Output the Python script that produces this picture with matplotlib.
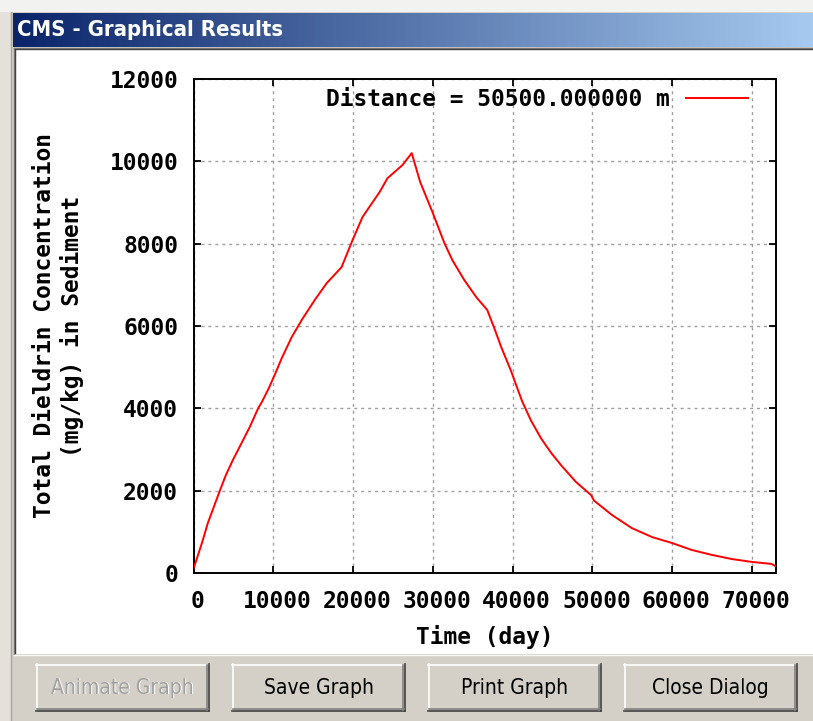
import numpy as np
import matplotlib
matplotlib.use("Agg")
import matplotlib.pyplot as plt
import matplotlib.transforms as mtransforms
from matplotlib.patches import Rectangle

# ---------------- data ----------------
time_day = [0, 1060, 1800, 3300, 4060, 4940, 7060, 8100, 8560, 9440, 10440, 11060,
            12310, 13560, 15190, 16690, 18560, 19940, 21190, 23310, 24310, 26190,
            27350, 28400, 29940, 31440, 32440, 33940, 35440, 36810, 37690, 38560,
            39810, 40560, 41190, 42300, 43560, 44810, 46060, 47940, 49810, 50190,
            52440, 54940, 57440, 59940, 62440, 64940, 67440, 69940, 72440, 73000]
conc = [100, 730, 1215, 2000, 2380, 2745, 3550, 4000, 4150, 4490, 4930, 5220,
        5730, 6145, 6630, 7040, 7430, 8090, 8650, 9250, 9590, 9910,
        10200, 9500, 8770, 8015, 7600, 7115, 6700, 6390, 5950, 5490,
        4900, 4500, 4170, 3700, 3270, 2920, 2620, 2210, 1895, 1760,
        1410, 1090, 875, 730, 560, 440, 340, 270, 220, 160]
x_ticks = [0, 10000, 20000, 30000, 40000, 50000, 60000, 70000]
y_ticks = [0, 2000, 4000, 6000, 8000, 10000, 12000]
series_label = "Distance = 50500.000000 m"
x_label = "Time (day)"
y_label = "Total Dieldrin Concentration\n(mg/kg) in Sediment"
window_title = "CMS - Graphical Results"
buttons = ["Animate Graph", "Save Graph", "Print Graph", "Close Dialog"]
button_enabled = [False, True, True, True]

plt.rcParams['lines.scale_dashes'] = False

W, H = 813, 721
fig = plt.figure(figsize=(W / 100, H / 100), dpi=100)

# ---------------- window chrome (pixel coordinates) ----------------
bg = fig.add_axes([0, 0, 1, 1], zorder=0)
bg.set_xlim(0, W)
bg.set_ylim(H, 0)
bg.axis('off')

face = '#D4D0C8'
bg.add_patch(Rectangle((0, 0), W, H, facecolor=face, edgecolor='none'))
bg.add_patch(Rectangle((0, 0), W, 12, facecolor='#F2F2F0', edgecolor='none'))
bg.add_patch(Rectangle((0, 12), 12, H, facecolor='#E4E1DA', edgecolor='none'))
bg.plot([11, 11], [12, H], color='#A8A59E', lw=1)

# title bar gradient
grad = np.linspace(0, 1, 256).reshape(1, -1)
c0 = np.array([10, 36, 106]) / 255
c1 = np.array([166, 202, 240]) / 255
img = c0[None, None, :] * (1 - grad[..., None]) + c1[None, None, :] * grad[..., None]
bg.imshow(img, extent=[13, W, 47, 13], aspect='auto', zorder=1)
bg.text(17, 30.5, window_title, color='white', fontsize=15.8, fontweight='bold',
        family='DejaVu Sans', fontstretch='condensed', ha='left', va='center', zorder=2)

# white client panel (sunken)
bg.add_patch(Rectangle((14, 48), W - 14, 606, facecolor='white', edgecolor='none', zorder=1))
bg.plot([13.5, 13.5], [47.5, 654], color='#808080', lw=1, zorder=2)
bg.plot([15, 15], [49, 653], color='#404040', lw=1, zorder=2)
bg.plot([13.5, W], [47.5, 47.5], color='#808080', lw=1, zorder=2)
bg.plot([15, W], [49, 49], color='#404040', lw=1, zorder=2)
bg.plot([14, W], [654.5, 654.5], color='#F8F8F8', lw=1, zorder=2)

# buttons
bx0, bw, bgap, by0, bh = 36, 173, 23, 664, 47
bfont = dict(fontsize=15, family='DejaVu Sans', fontstretch='condensed',
             ha='center', va='center')
for i, (lab, en) in enumerate(zip(buttons, button_enabled)):
    x = bx0 + i * (bw + bgap)
    bg.add_patch(Rectangle((x, by0), bw, bh, facecolor=face, edgecolor='none', zorder=2))
    bg.plot([x, x + bw], [by0 + 0.5, by0 + 0.5], color='white', lw=1.2, zorder=3)
    bg.plot([x + 0.5, x + 0.5], [by0, by0 + bh], color='white', lw=1.2, zorder=3)
    bg.plot([x, x + bw], [by0 + bh - 0.5, by0 + bh - 0.5], color='#404040', lw=1.2, zorder=3)
    bg.plot([x + bw - 0.5, x + bw - 0.5], [by0, by0 + bh], color='#404040', lw=1.2, zorder=3)
    bg.plot([x + 1, x + bw - 1], [by0 + bh - 2, by0 + bh - 2], color='#808080', lw=1.2, zorder=3)
    bg.plot([x + bw - 2, x + bw - 2], [by0 + 1, by0 + bh - 1], color='#808080', lw=1.2, zorder=3)
    cx, cy = x + bw / 2, by0 + bh / 2
    if en:
        bg.text(cx, cy, lab, color='black', zorder=4, **bfont)
    else:
        bg.text(cx + 1, cy + 1, lab, color='white', zorder=4, **bfont)
        bg.text(cx, cy, lab, color='#A0A0A0', zorder=5, **bfont)

# ---------------- plot ----------------
mono = dict(family='DejaVu Sans Mono', fontweight='bold', fontsize=16.5)
L, R, T, B = 193.5, 776, 79, 573
ax = fig.add_axes([L / W, (H - B) / H, (R - L) / W, (B - T) / H], zorder=5)
ax.set_facecolor('white')
ax.plot(time_day, conc, color='#FF0000', lw=1.4, label=series_label, zorder=3)
ax.set_xlim(0, 73000)
ax.set_ylim(0, 12000)
ax.set_xticks(x_ticks)
ax.set_yticks(y_ticks)
ax.set_xticklabels([str(v) for v in x_ticks], **mono)
ax.set_yticklabels([str(v) for v in y_ticks], **mono)
ax.tick_params(axis='both', direction='in', length=5, width=1.3, color='black',
               top=True, right=True)
ax.tick_params(axis='x', pad=12)
ax.tick_params(axis='y', pad=11)
shift = mtransforms.ScaledTranslation(4 / 100, 0, fig.dpi_scale_trans)
for lbl in ax.get_xticklabels():
    lbl.set_transform(lbl.get_transform() + shift)
for s in ax.spines.values():
    s.set_linewidth(1.4)
    s.set_color('black')
ax.grid(True, color='#A0A0A0', lw=1.0, ls=(0, (2.2, 2.8)))
ax.set_axisbelow(True)

leg = ax.legend(loc='upper right', bbox_to_anchor=(0.952, 0.982), frameon=False,
                markerfirst=False, handlelength=2.7, handletextpad=0.7,
                borderpad=0, borderaxespad=0, prop=dict(family='DejaVu Sans Mono',
                                                         weight='bold', size=16.5))

bg.text(485, 637, x_label, ha='center', va='center', **mono)
bg.text(58.5, 326, y_label, rotation=90, ha='center', va='center',
        multialignment='center', linespacing=1.2, **mono)

fig.savefig('out.png', dpi=100)
